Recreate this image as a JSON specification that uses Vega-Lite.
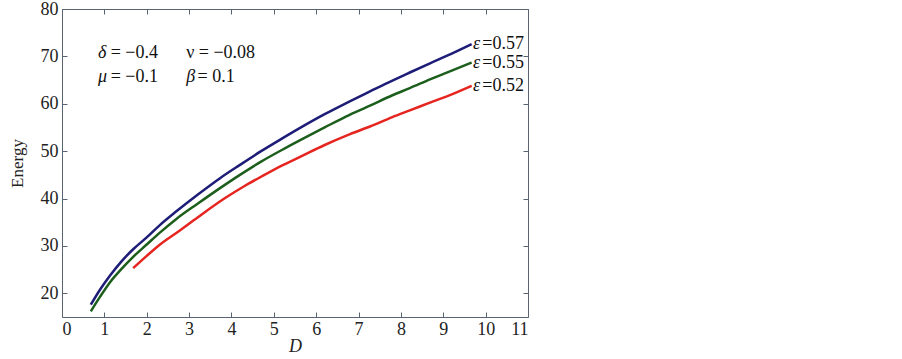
{
  "$schema": "https://vega.github.io/schema/vega-lite/v6.json",
  "width": 466,
  "height": 308,
  "autosize": "none",
  "padding": {"left": 62, "top": 9, "right": 374, "bottom": 42},
  "background": "white",
  "view": {"stroke": null},
  "config": {
    "font": "Liberation Serif",
    "text": {"font": "Liberation Serif"},
    "axis": {
      "domainColor": "#5a6470",
      "tickColor": "#5a6470",
      "tickSize": -5,
      "grid": false,
      "labelFont": "Liberation Serif",
      "labelFontSize": 18,
      "labelColor": "#222222",
      "titleFont": "Liberation Serif",
      "titleFontWeight": "normal",
      "titleColor": "#222222"
    }
  },
  "datasets": {
    "curves": [
      {"D": 0.68, "E": 17.6, "eps": "0.57"},
      {"D": 0.9, "E": 20.8, "eps": "0.57"},
      {"D": 1.13, "E": 23.7, "eps": "0.57"},
      {"D": 1.4, "E": 26.7, "eps": "0.57"},
      {"D": 1.68, "E": 29.3, "eps": "0.57"},
      {"D": 2.0, "E": 31.8, "eps": "0.57"},
      {"D": 2.31, "E": 34.4, "eps": "0.57"},
      {"D": 2.7, "E": 37.3, "eps": "0.57"},
      {"D": 3.2, "E": 40.8, "eps": "0.57"},
      {"D": 3.73, "E": 44.3, "eps": "0.57"},
      {"D": 4.2, "E": 47.1, "eps": "0.57"},
      {"D": 4.7, "E": 50.0, "eps": "0.57"},
      {"D": 5.2, "E": 52.7, "eps": "0.57"},
      {"D": 5.6, "E": 54.8, "eps": "0.57"},
      {"D": 6.2, "E": 57.8, "eps": "0.57"},
      {"D": 6.7, "E": 60.1, "eps": "0.57"},
      {"D": 7.27, "E": 62.6, "eps": "0.57"},
      {"D": 7.8, "E": 64.9, "eps": "0.57"},
      {"D": 8.21, "E": 66.6, "eps": "0.57"},
      {"D": 8.7, "E": 68.6, "eps": "0.57"},
      {"D": 9.2, "E": 70.6, "eps": "0.57"},
      {"D": 9.67, "E": 72.6, "eps": "0.57"},
      {"D": 0.68, "E": 16.2, "eps": "0.55"},
      {"D": 0.9, "E": 19.3, "eps": "0.55"},
      {"D": 1.13, "E": 22.3, "eps": "0.55"},
      {"D": 1.4, "E": 25.1, "eps": "0.55"},
      {"D": 1.68, "E": 27.7, "eps": "0.55"},
      {"D": 2.0, "E": 30.3, "eps": "0.55"},
      {"D": 2.31, "E": 32.8, "eps": "0.55"},
      {"D": 2.7, "E": 35.7, "eps": "0.55"},
      {"D": 3.2, "E": 38.9, "eps": "0.55"},
      {"D": 3.73, "E": 42.2, "eps": "0.55"},
      {"D": 4.2, "E": 45.0, "eps": "0.55"},
      {"D": 4.7, "E": 47.8, "eps": "0.55"},
      {"D": 5.2, "E": 50.3, "eps": "0.55"},
      {"D": 5.6, "E": 52.2, "eps": "0.55"},
      {"D": 6.2, "E": 55.0, "eps": "0.55"},
      {"D": 6.7, "E": 57.3, "eps": "0.55"},
      {"D": 7.27, "E": 59.6, "eps": "0.55"},
      {"D": 7.8, "E": 61.8, "eps": "0.55"},
      {"D": 8.21, "E": 63.3, "eps": "0.55"},
      {"D": 8.7, "E": 65.2, "eps": "0.55"},
      {"D": 9.2, "E": 67.0, "eps": "0.55"},
      {"D": 9.67, "E": 68.7, "eps": "0.55"},
      {"D": 1.68, "E": 25.3, "eps": "0.52"},
      {"D": 2.0, "E": 27.9, "eps": "0.52"},
      {"D": 2.3, "E": 30.2, "eps": "0.52"},
      {"D": 2.79, "E": 33.3, "eps": "0.52"},
      {"D": 3.2, "E": 36.0, "eps": "0.52"},
      {"D": 3.85, "E": 40.1, "eps": "0.52"},
      {"D": 4.3, "E": 42.6, "eps": "0.52"},
      {"D": 4.7, "E": 44.6, "eps": "0.52"},
      {"D": 5.2, "E": 47.0, "eps": "0.52"},
      {"D": 5.62, "E": 48.8, "eps": "0.52"},
      {"D": 6.2, "E": 51.3, "eps": "0.52"},
      {"D": 6.8, "E": 53.6, "eps": "0.52"},
      {"D": 7.27, "E": 55.2, "eps": "0.52"},
      {"D": 7.8, "E": 57.2, "eps": "0.52"},
      {"D": 8.21, "E": 58.6, "eps": "0.52"},
      {"D": 8.7, "E": 60.3, "eps": "0.52"},
      {"D": 9.2, "E": 62.0, "eps": "0.52"},
      {"D": 9.67, "E": 63.8, "eps": "0.52"}
    ],
    "symbols": [
      {"D": 0.85, "E": 70.7, "t": "δ"},
      {"D": 0.85, "E": 65.6, "t": "μ"},
      {"D": 2.93, "E": 65.6, "t": "β"},
      {"D": 9.7, "E": 72.6, "t": "ε"},
      {"D": 9.7, "E": 68.7, "t": "ε"},
      {"D": 9.7, "E": 63.8, "t": "ε"}
    ],
    "plain": [
      {"D": 1.15, "E": 70.7, "t": "= −0.4"},
      {"D": 2.93, "E": 70.7, "t": "ν = −0.08"},
      {"D": 1.15, "E": 65.6, "t": "= −0.1"},
      {"D": 3.2, "E": 65.6, "t": "= 0.1"},
      {"D": 9.92, "E": 72.6, "t": "=0.57"},
      {"D": 9.92, "E": 68.7, "t": "=0.55"},
      {"D": 9.92, "E": 63.8, "t": "=0.52"}
    ]
  },
  "layer": [
    {
      "data": {"name": "curves"},
      "mark": {"type": "line", "strokeWidth": 2.5, "interpolate": "monotone"},
      "encoding": {
        "x": {"field": "D", "type": "quantitative", "scale": {"domain": [0, 11], "nice": false},
              "axis": {"orient": "bottom", "values": [0,1,2,3,4,5,6,7,8,9,10,11], "title": "D", "titleFontStyle": "italic", "titleFontSize": 18, "labelPadding": 8, "titleY": 34, "titleBaseline": "alphabetic"}},
        "y": {"field": "E", "type": "quantitative", "scale": {"domain": [15, 80], "nice": false, "zero": false},
              "axis": {"orient": "left", "values": [20,30,40,50,60,70,80], "title": "Energy", "titleFontSize": 17, "labelPadding": 9, "titleX": -40, "titleBaseline": "alphabetic"}},
        "color": {"field": "eps", "type": "nominal", "legend": null,
                  "scale": {"domain": ["0.57", "0.55", "0.52"], "range": ["#1d1d78", "#1c5e1c", "#e52520"]}}
      }
    },
    {
      "data": {"name": "curves"},
      "mark": {"type": "line", "opacity": 0},
      "encoding": {
        "x": {"field": "D", "type": "quantitative", "axis": {"orient": "top", "values": [0,1,2,3,4,5,6,7,8,9,10,11], "labels": false, "title": null}},
        "y": {"field": "E", "type": "quantitative", "axis": {"orient": "right", "values": [20,30,40,50,60,70,80], "labels": false, "title": null}}
      }
    },
    {
      "data": {"name": "symbols"},
      "mark": {"type": "text", "align": "left", "baseline": "middle", "fontSize": 18, "fontStyle": "italic", "font": "Liberation Serif", "color": "#111111"},
      "encoding": {
        "x": {"field": "D", "type": "quantitative", "axis": null},
        "y": {"field": "E", "type": "quantitative", "axis": null},
        "text": {"field": "t"}
      }
    },
    {
      "data": {"name": "plain"},
      "mark": {"type": "text", "align": "left", "baseline": "middle", "fontSize": 18, "font": "Liberation Serif", "color": "#111111"},
      "encoding": {
        "x": {"field": "D", "type": "quantitative", "axis": null},
        "y": {"field": "E", "type": "quantitative", "axis": null},
        "text": {"field": "t"}
      }
    }
  ],
  "resolve": {"axis": {"x": "independent", "y": "independent"}}
}
